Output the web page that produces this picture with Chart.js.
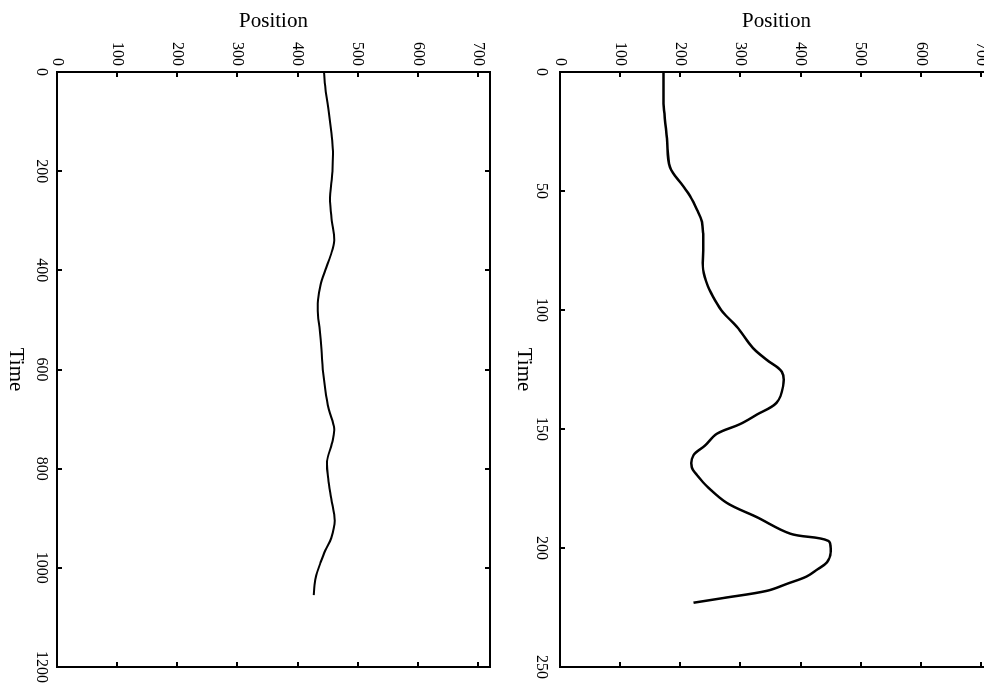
<!DOCTYPE html>
<html>
<head>
<meta charset="utf-8">
<script src="https://cdn.jsdelivr.net/npm/chart.js@4.4.1/dist/chart.umd.min.js"></script>
<style>
  html, body { margin: 0; padding: 0; background: #fff; width: 984px; height: 683px; overflow: hidden; }
  .panel { position: absolute; left: 0; top: 0; width: 690px; height: 500px; transform-origin: 0 0; }
  #p1 { transform: translate(500px, 0px) rotate(90deg); }
  #p2 { transform: translate(1003px, 0px) rotate(90deg); }
</style>
</head>
<body>
<div class="panel" id="p1"><canvas id="c1" width="690" height="500"></canvas></div>
<div class="panel" id="p2"><canvas id="c2" width="690" height="500"></canvas></div>
<script>
// Left panel: long recording
const timeA = [0, 40, 80, 120, 160, 200, 260, 300, 340, 370, 400, 430, 460, 490, 520, 560, 600, 640, 680, 720, 750, 785, 820, 860, 905, 940, 965, 990, 1015, 1035, 1055];
const posA  = [444, 447, 452, 456, 459, 458, 454, 457, 461, 455, 446, 438, 434, 434, 437, 440, 442, 446, 452, 461, 457, 449, 451, 456, 462, 456, 446, 438, 431, 428, 427];

// Right panel: short recording
const timeB = [0, 10, 16, 28, 40, 48, 52, 58, 63, 68, 75, 83, 90, 96, 101, 107, 116, 121, 126, 132, 139, 144, 148, 152, 157, 161, 166, 170, 174, 181, 187, 194, 197, 202, 206, 209, 212, 215, 218, 221, 223];
const posB  = [172, 172, 173, 178, 183, 205, 216, 228, 236, 238, 238, 238, 246, 258, 271, 294, 321, 344, 369, 371, 360, 327, 299, 261, 241, 222, 219, 230, 244, 277, 327, 383, 446, 450, 444, 428, 410, 378, 344, 272, 222];

const posTicks = [0, 100, 200, 300, 400, 500, 600, 700];
const timeTicksA = [0, 200, 400, 600, 800, 1000, 1200];
const timeTicksB = [0, 50, 100, 150, 200, 250];

const FONT = "'Liberation Serif', 'Times New Roman', serif";

const frameTicks = {
  id: 'frameTicks',
  afterDatasetsDraw(chart) {
    const { ctx, chartArea: { left, right, top, bottom }, scales: { x, y } } = chart;
    const L = 5;
    ctx.save();
    ctx.strokeStyle = '#000';
    ctx.lineWidth = 2;
    ctx.strokeRect(left, top, right - left, bottom - top);
    ctx.beginPath();
    x.ticks.forEach(t => {
      const px = Math.round(x.getPixelForValue(t.value));
      ctx.moveTo(px, bottom); ctx.lineTo(px, bottom - L);
      ctx.moveTo(px, top); ctx.lineTo(px, top + L);
    });
    y.ticks.forEach(t => {
      const py = Math.round(y.getPixelForValue(t.value));
      ctx.moveTo(left, py); ctx.lineTo(left + L, py);
      ctx.moveTo(right, py); ctx.lineTo(right - L, py);
    });
    ctx.stroke();
    ctx.restore();
  }
};

function makeChart(id, times, values, tMax, tTicks, tickPad, titlePad, width) {
  return new Chart(document.getElementById(id), {
    type: 'line',
    data: {
      datasets: [{
        data: times.map((t, i) => ({ x: t, y: values[i] })),
        borderColor: '#000',
        borderWidth: width,
        pointRadius: 0,
        tension: 0.35,
        fill: false
      }]
    },
    options: {
      responsive: false,
      animation: false,
      devicePixelRatio: 1,
      layout: { padding: { top: 10, right: 23, bottom: 0, left: 0 } },
      plugins: { legend: { display: false }, tooltip: { enabled: false } },
      scales: {
        x: {
          type: 'linear', min: 0, max: tMax,
          grid: { display: false, drawTicks: false },
          border: { display: false },
          ticks: { color: '#000', font: { family: FONT, size: 16 }, padding: tickPad, maxRotation: 0, autoSkip: false, callback: v => String(v) },
          afterBuildTicks(s) { s.ticks = tTicks.map(v => ({ value: v })); },
          title: { display: true, text: 'Time', color: '#000', font: { family: FONT, size: 21, lineHeight: 1.2 }, padding: { top: 0, bottom: titlePad } },
          afterFit(s) { s.height = 57; }
        },
        y: {
          type: 'linear', min: 0, max: 720,
          grid: { display: false, drawTicks: false },
          border: { display: false },
          ticks: { color: '#000', font: { family: FONT, size: 16 }, padding: 6, callback: v => String(v) },
          afterBuildTicks(s) { s.ticks = posTicks.map(v => ({ value: v })); },
          title: { display: true, text: 'Position', color: '#000', font: { family: FONT, size: 21, lineHeight: 1.2 }, padding: { top: 9, bottom: 0 } },
          afterFit(s) { s.width = 72; s.paddingTop = 0; s.paddingBottom = 0; }
        }
      }
    },
    plugins: [frameTicks]
  });
}

makeChart('c1', timeA, posA, 1200, timeTicksA, 6, 3, 2);
makeChart('c2', timeB, posB, 250, timeTicksB, 9, 8, 2.5);
</script>
</body>
</html>
